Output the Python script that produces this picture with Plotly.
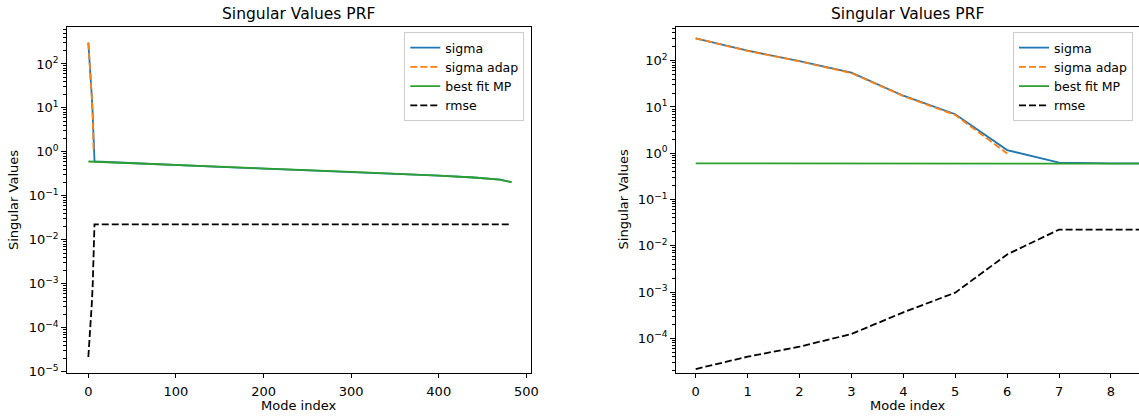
import plotly.graph_objects as go
from plotly.subplots import make_subplots

# ---------------- data ----------------
sigma_x = [0, 1, 2, 3, 4, 5, 6, 7, 8, 50, 100, 150, 200, 250, 300, 350, 400, 440, 470, 483]
sigma_y = [305, 164, 98, 55, 17.5, 6.95, 1.17, 0.625, 0.605, 0.55, 0.495, 0.455, 0.418,
           0.385, 0.352, 0.322, 0.29, 0.262, 0.235, 0.205]

adap_x = [0, 1, 2, 3, 4, 5, 6]
adap_y = [303, 163, 97, 54, 17.2, 6.7, 0.99]

mp_x = [0, 50, 100, 150, 200, 250, 300, 350, 400, 440, 470, 483]
mp_y = [0.605, 0.55, 0.495, 0.455, 0.418, 0.385, 0.352, 0.322, 0.29, 0.262, 0.235, 0.205]

rmse_x = [0, 1, 2, 3, 4, 5, 6, 7, 8, 483]
rmse_y = [2.17e-5, 4.0e-5, 6.6e-5, 1.24e-4, 3.65e-4, 9.7e-4, 6.5e-3, 0.0224, 0.0224, 0.0224]

series_names = ["sigma", "sigma adap", "best fit MP", "rmse"]
title_text = "Singular Values PRF"
x_label = "Mode index"
y_label = "Singular Values"

left_xticks = [0, 100, 200, 300, 400, 500]
right_xticks = [0, 1, 2, 3, 4, 5, 6, 7, 8]
y_tick_exps = [-5, -4, -3, -2, -1, 0, 1, 2]
y_tick_text = ["10<sup>−5</sup>", "10<sup>−4</sup>", "10<sup>−3</sup>", "10<sup>−2</sup>",
               "10<sup>−1</sup>", "10<sup>0</sup>", "10<sup>1</sup>", "10<sup>2</sup>"]

# ---------------- style ----------------
W, H = 1139, 417
FONT = "DejaVu Sans"
FS = 13
FS_LEG = 12.5
FS_TITLE = 15.5
C_BLUE, C_ORANGE, C_GREEN, C_BLACK = "#1f77b4", "#ff7f0e", "#2ca02c", "#000000"
LW = 1.8
DASH = "7px,3px"

# axes boxes in pixels (left, right, top, bottom)
L_BOX = (66.7, 531.0, 27.0, 372.7)
R_BOX = (675.7, 1139.0, 27.0, 372.7)


def dom_x(b):
    return [b[0] / W, b[1] / W]


def dom_y(b):
    return [(H - b[3]) / H, (H - b[2]) / H]


fig = make_subplots(rows=1, cols=2)

for col, legend_id in [(1, "legend"), (2, "legend2")]:
    fig.add_trace(go.Scatter(x=sigma_x, y=sigma_y, mode="lines", name=series_names[0],
                             line=dict(color=C_BLUE, width=LW), legend=legend_id), row=1, col=col)
    fig.add_trace(go.Scatter(x=adap_x, y=adap_y, mode="lines", name=series_names[1],
                             line=dict(color=C_ORANGE, width=LW, dash=DASH), legend=legend_id), row=1, col=col)
    fig.add_trace(go.Scatter(x=mp_x, y=mp_y, mode="lines", name=series_names[2],
                             line=dict(color=C_GREEN, width=LW), legend=legend_id), row=1, col=col)
    fig.add_trace(go.Scatter(x=rmse_x, y=rmse_y, mode="lines", name=series_names[3],
                             line=dict(color=C_BLACK, width=LW, dash=DASH), legend=legend_id), row=1, col=col)

y_tick_vals = [10.0 ** e for e in y_tick_exps]
minor_vals = [m * 10.0 ** e for e in range(-7, 4) for m in range(2, 10)]

common_x = dict(showgrid=False, zeroline=False, showline=True, linecolor="black", linewidth=1,
                ticks="outside", ticklen=4.5, tickwidth=1, tickcolor="black", ticklabelstandoff=2,
                automargin=False,
                tickfont=dict(family=FONT, size=FS, color="black"))
common_y = dict(type="log", showgrid=False, zeroline=False, showline=True, linecolor="black",
                linewidth=1, ticks="outside", ticklen=4.5, tickwidth=1, tickcolor="black",
                tickvals=y_tick_vals, ticktext=y_tick_text, automargin=False,
                tickfont=dict(family=FONT, size=FS, color="black"),
                minor=dict(tickvals=minor_vals, ticks="outside", ticklen=2.6, tickwidth=0.7,
                           tickcolor="black"))

fig.update_xaxes(common_x, row=1, col=1)
fig.update_xaxes(common_x, row=1, col=2)
fig.update_yaxes(common_y, row=1, col=1)
fig.update_yaxes(common_y, row=1, col=2)

fig.update_layout(
    xaxis=dict(domain=dom_x(L_BOX), range=[-24.7, 505.3], tickvals=left_xticks, mirror=True),
    yaxis=dict(domain=dom_y(L_BOX), range=[-5.02, 2.84], mirror=True),
    xaxis2=dict(domain=dom_x(R_BOX), range=[-0.385, 8.54], tickvals=right_xticks, mirror=True),
    yaxis2=dict(domain=dom_y(R_BOX), range=[-4.743, 2.728], mirror=False),
)

legend_style = dict(font=dict(family=FONT, size=FS_LEG, color="black"), bgcolor="rgba(255,255,255,0.8)",
                    bordercolor="#cccccc", borderwidth=1, xanchor="right", yanchor="top",
                    itemwidth=30, tracegroupgap=0)
fig.update_layout(
    legend=dict(legend_style, x=524.3 / W, y=(H - 32) / H),
    legend2=dict(legend_style, x=1133 / W, y=(H - 32) / H),
)

annotations = []
for box in (L_BOX, R_BOX):
    cx = (box[0] + (box[1] if box is L_BOX else 1140.0)) / 2
    annotations.append(dict(text=title_text, x=cx / W, y=(H - 14.3) / H, xref="paper", yref="paper",
                            xanchor="center", yanchor="middle", showarrow=False,
                            font=dict(family=FONT, size=FS_TITLE, color="black")))
    annotations.append(dict(text=x_label, x=cx / W, y=(H - 405.5) / H, xref="paper", yref="paper",
                            xanchor="center", yanchor="middle", showarrow=False,
                            font=dict(family=FONT, size=FS, color="black")))
annotations.append(dict(text=y_label, x=14.3 / W, y=(H - 199.8) / H, xref="paper", yref="paper",
                        xanchor="center", yanchor="middle", showarrow=False, textangle=-90,
                        font=dict(family=FONT, size=FS, color="black")))
annotations.append(dict(text=y_label, x=623.6 / W, y=(H - 199.8) / H, xref="paper", yref="paper",
                        xanchor="center", yanchor="middle", showarrow=False, textangle=-90,
                        font=dict(family=FONT, size=FS, color="black")))

fig.update_layout(
    width=W, height=H, margin=dict(l=0, r=0, t=0, b=0, autoexpand=False),
    paper_bgcolor="white", plot_bgcolor="white",
    annotations=annotations, showlegend=True,
)

fig.write_html("out.html")
